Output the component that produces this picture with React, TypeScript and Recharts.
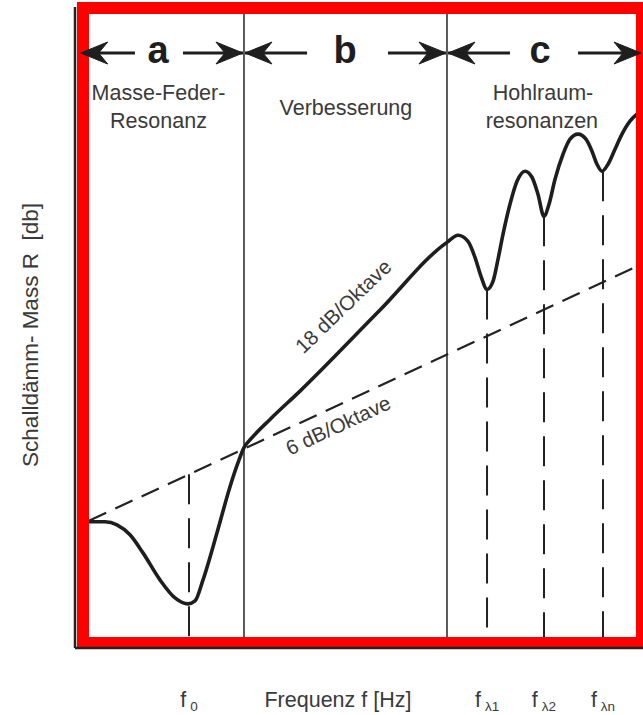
import React from 'react';
import {
  ComposedChart,
  Line,
  XAxis,
  YAxis,
  ReferenceLine,
  ReferenceDot,
} from 'recharts';

// Sound reduction curve (arbitrary units: frequency 0..100, level 0..100)
const curveX = [2.46, 5.28, 7.39, 9.68, 11.97, 14.96, 17.61, 19.89, 21.13, 22.54, 25.0, 27.29, 28.7, 29.75, 31.16, 34.33, 39.61, 53.7, 65.49, 67.43, 69.19, 70.42, 71.48, 72.54, 73.59, 74.47, 75.35, 76.58, 77.82, 79.23, 80.46, 81.51, 82.57, 83.45, 84.51, 85.92, 87.15, 88.56, 89.96, 91.02, 91.9, 92.78, 93.84, 95.07, 96.3, 97.71, 98.94];
const curveY = [19.69, 19.69, 19.22, 17.66, 14.84, 10.63, 7.81, 6.88, 7.34, 10.63, 17.97, 25.16, 28.91, 31.25, 32.81, 35.66, 40.08, 52.73, 63.28, 64.38, 63.44, 60.94, 57.97, 55.94, 57.19, 60.63, 64.53, 69.22, 72.81, 74.38, 73.44, 70.78, 67.34, 69.22, 73.13, 77.03, 79.38, 80.16, 79.38, 77.5, 75.47, 74.38, 75.47, 77.81, 80.16, 82.19, 83.28];

// 6 dB/Oktave mass law reference line
const massX = [2.46, 98.94];
const massY = [19.84, 59.53];

// resonance markers (dashed verticals)
const markerX = [20.07, 72.54, 82.57, 92.96];
const markerTop = [27.1, 55.94, 67.34, 74.38];

// region dividers
const dividerX = [29.75, 65.49];

// region arrows
const regionLetters = ['a', 'b', 'c'];
const regionCenter = [14.61, 47.54, 81.87];
const leftTip = [1.0, 29.93, 65.67];
const leftShaftEnd = [10.56, 40.85, 76.58];
const rightShaftStart = [19.01, 55.1, 88.56];
const rightTip = [29.57, 65.31, 99.65];
const arrowY = 92.82;
const letterY = 91.3;

// region captions
const captionText = ['Masse-Feder-', 'Resonanz', 'Verbesserung', 'Hohlraum-', 'resonanzen'];
const captionX = [14.7, 14.7, 47.7, 82.4, 82.2];
const captionY = [85.49, 81.12, 83.15, 85.49, 81.12];

// slope labels
const slopeText = ['18 dB/Oktave', '6 dB/Oktave'];
const slopeX = [47.18, 46.3];
const slopeY = [53.35, 34.79];
const slopeAngle = [-44, -25];

// x tick labels
const xTicks = [20.07, 46.3, 72.54, 82.57, 92.96];
const xTickMain = ['f', 'Frequenz f [Hz]', 'f', 'f', 'f'];
const xTickSub = ['0', '', 'λ1', 'λ2', 'λn'];

const yLabel = 'Schalldämm- Mass R\u00A0\u00A0[db]';

// highlight frame (left, right, bottom, top) and its half-stroke extension
const frameLeft = 1.41;
const frameRight = 99.82;
const frameBottom = 0.78;
const frameTop = 99.84;
const frameExtX = 1.06;
const frameExtY = 0.94;

const curveData = curveX.map((x, i) => ({ x, y: curveY[i] }));
const massData = massX.map((x, i) => ({ x, y: massY[i] }));

const FONT = '"Liberation Sans", Arial, Helvetica, sans-serif';
const TEXT_COLOR = '#3a3a3a';
const INK = '#1e1e1e';
const RED = '#ff0000';

function XTick(props: any) {
  const { x, y, payload } = props;
  const i = xTicks.findIndex((t) => Math.abs(t - payload.value) < 0.01);
  if (i < 0) return null;
  return (
    <text
      x={x}
      y={y + 51}
      textAnchor="middle"
      fontFamily={FONT}
      fontSize={21.5}
      fill={TEXT_COLOR}
    >
      <tspan>{xTickMain[i]}</tspan>
      {xTickSub[i] ? (
        <tspan dx={4} dy={4} fontSize={13.5}>
          {xTickSub[i]}
        </tspan>
      ) : null}
    </text>
  );
}

function YLabel(props: any) {
  const vb = props.viewBox || { x: 0, y: 7, width: 75, height: 641 };
  const cx = vb.x + 30;
  const cy = vb.y + vb.height / 2 + 7.5;
  return (
    <text
      x={cx}
      y={cy}
      transform={`rotate(-90 ${cx} ${cy})`}
      textAnchor="middle"
      dominantBaseline="central"
      fontFamily={FONT}
      fontSize={22.5}
      fill={TEXT_COLOR}
    >
      {yLabel}
    </text>
  );
}

function arrowHead(dir: number) {
  return (p: any) => {
    const { cx, cy } = p;
    const d = `M${cx},${cy} L${cx - dir * 27},${cy - 11} L${cx - dir * 18},${cy} L${cx - dir * 27},${cy + 11} Z`;
    return <path d={d} fill={INK} stroke={INK} strokeWidth={1} strokeLinejoin="miter" />;
  };
}

function textShape(text: string, opts: any) {
  return (p: any) => {
    const { cx, cy } = p;
    return (
      <text
        x={cx}
        y={cy}
        textAnchor="middle"
        fontFamily={FONT}
        fontSize={opts.fontSize || 21.5}
        fontWeight={opts.fontWeight || 'normal'}
        fill={opts.fill || TEXT_COLOR}
        dominantBaseline={opts.baseline || 'auto'}
        transform={opts.angle ? `rotate(${opts.angle} ${cx} ${cy})` : undefined}
      >
        {text}
      </text>
    );
  };
}

const frameSegments = [
  [{ x: frameLeft, y: frameBottom - frameExtY }, { x: frameLeft, y: frameTop + frameExtY }],
  [{ x: frameRight, y: frameBottom - frameExtY }, { x: frameRight, y: frameTop + frameExtY }],
  [{ x: frameLeft - frameExtX, y: frameBottom }, { x: frameRight + frameExtX, y: frameBottom }],
  [{ x: frameLeft - frameExtX, y: frameTop }, { x: frameRight + frameExtX, y: frameTop }],
];

export default function App() {
  return (
    <div style={{ position: 'fixed', top: 0, left: 0, width: 643, height: 715, background: '#fff' }}>
      <ComposedChart width={643} height={715} margin={{ top: 7, right: 0, bottom: 0, left: 0 }}>
        <XAxis
          type="number"
          dataKey="x"
          domain={[0, 100]}
          ticks={xTicks}
          interval={0}
          tickLine={false}
          axisLine={{ stroke: '#222', strokeWidth: 2.5 }}
          height={67}
          tick={<XTick />}
          allowDataOverflow
        />
        <YAxis
          type="number"
          dataKey="y"
          domain={[0, 100]}
          tick={false}
          tickLine={false}
          axisLine={{ stroke: '#222', strokeWidth: 2.5 }}
          width={75}
          label={(p: any) => <YLabel {...p} />}
          allowDataOverflow
        />

        {dividerX.map((x, i) => (
          <ReferenceLine key={'div' + i} x={x} stroke="#333" strokeWidth={1.6} ifOverflow="visible" />
        ))}

        {markerX.map((x, i) => (
          <ReferenceLine
            key={'mk' + i}
            segment={[
              { x, y: markerTop[i] },
              { x, y: 0 },
            ]}
            stroke="#222"
            strokeWidth={2}
            strokeDasharray="30 14"
            ifOverflow="visible"
          />
        ))}

        <Line
          data={massData}
          dataKey="y"
          type="linear"
          stroke="#222"
          strokeWidth={2.2}
          strokeDasharray="19 10"
          dot={false}
          activeDot={false}
          isAnimationActive={false}
        />
        <Line
          data={curveData}
          dataKey="y"
          type="monotone"
          stroke={INK}
          strokeWidth={3.6}
          dot={false}
          activeDot={false}
          isAnimationActive={false}
        />

        {regionLetters.map((l, i) => (
          <ReferenceLine
            key={'ls' + i}
            segment={[
              { x: leftShaftEnd[i], y: arrowY },
              { x: leftTip[i], y: arrowY },
            ]}
            stroke={INK}
            strokeWidth={3}
            ifOverflow="visible"
          />
        ))}
        {regionLetters.map((l, i) => (
          <ReferenceLine
            key={'rs' + i}
            segment={[
              { x: rightShaftStart[i], y: arrowY },
              { x: rightTip[i], y: arrowY },
            ]}
            stroke={INK}
            strokeWidth={3}
            ifOverflow="visible"
          />
        ))}
        {regionLetters.map((l, i) => (
          <ReferenceDot key={'lh' + i} x={leftTip[i]} y={arrowY} r={1} ifOverflow="visible" shape={arrowHead(-1)} />
        ))}
        {regionLetters.map((l, i) => (
          <ReferenceDot key={'rh' + i} x={rightTip[i]} y={arrowY} r={1} ifOverflow="visible" shape={arrowHead(1)} />
        ))}
        {regionLetters.map((l, i) => (
          <ReferenceDot
            key={'lt' + i}
            x={regionCenter[i]}
            y={letterY}
            r={1}
            ifOverflow="visible"
            shape={textShape(l, { fontSize: 38, fontWeight: 'bold', fill: INK })}
          />
        ))}

        {captionText.map((t, i) => (
          <ReferenceDot
            key={'cap' + i}
            x={captionX[i]}
            y={captionY[i]}
            r={1}
            ifOverflow="visible"
            shape={textShape(t, {})}
          />
        ))}

        {slopeText.map((t, i) => (
          <ReferenceDot
            key={'sl' + i}
            x={slopeX[i]}
            y={slopeY[i]}
            r={1}
            ifOverflow="visible"
            shape={textShape(t, { angle: slopeAngle[i], baseline: 'central', fontSize: 20.5 })}
          />
        ))}

        {frameSegments.map((seg, i) => (
          <ReferenceLine
            key={'fr' + i}
            segment={seg}
            stroke={RED}
            strokeWidth={12}
            ifOverflow="visible"
          />
        ))}
      </ComposedChart>
    </div>
  );
}
